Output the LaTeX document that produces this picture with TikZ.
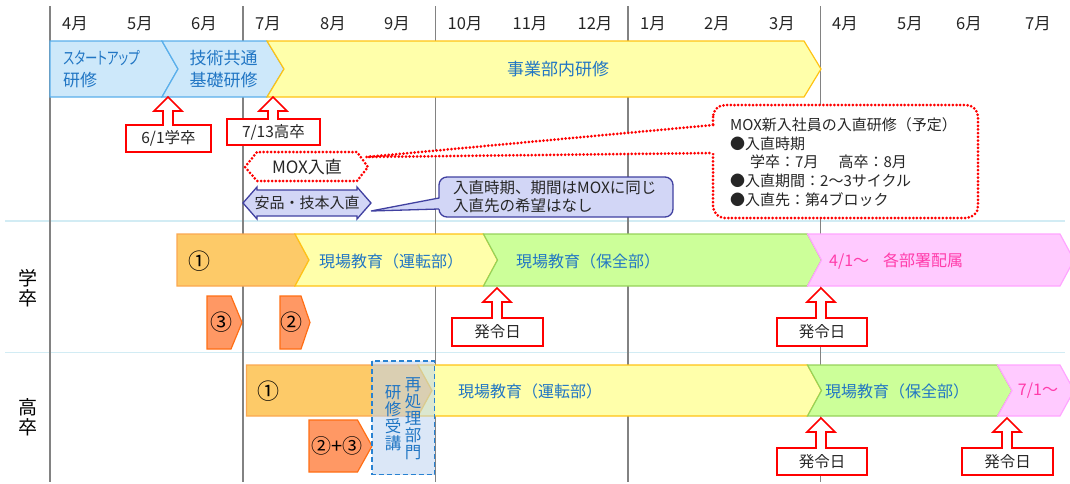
\documentclass[tikz,border=0pt]{standalone}
\usepackage{fontspec}
\setmainfont{Noto Sans CJK JP}
\newfontfamily\pfont{Noto Sans CJK JP}[RawFeature=+palt]
\usepackage{graphicx}
\usepackage{tikz}
\usetikzlibrary{positioning, calc}
\definecolor{gridgray}{RGB}{130,130,130}
\definecolor{sepcyan}{RGB}{210,236,244}
\definecolor{skyfill}{RGB}{205,232,250}
\definecolor{skyline}{RGB}{90,175,235}
\definecolor{yelfill}{RGB}{255,255,170}
\definecolor{yelline}{RGB}{255,195,20}
\definecolor{orafill}{RGB}{253,202,104}
\definecolor{oraline}{RGB}{250,168,80}
\definecolor{salfill}{RGB}{255,152,100}
\definecolor{salline}{RGB}{255,110,20}
\definecolor{grnfill}{RGB}{204,255,153}
\definecolor{grnline}{RGB}{150,210,90}
\definecolor{pnkfill}{RGB}{255,202,255}
\definecolor{pnkline}{RGB}{255,165,255}
\definecolor{pnktext}{RGB}{255,60,170}
\definecolor{txtblue}{RGB}{33,118,196}
\definecolor{lavfill}{RGB}{210,214,246}
\definecolor{lavline}{RGB}{64,64,160}
\definecolor{dashblue}{RGB}{40,130,210}
\definecolor{dashfill}{RGB}{190,212,240}

\newcommand{\fsz}[2]{\fontsize{#1}{#2}\selectfont}
% chevron: style, x left, notch, x corner, tip, y top, y bottom
\newcommand{\chev}[7]{%
  \draw [#1] (#2,#6) -- (#4,#6) -- ({#4+#5},{(#6+#7)/2}) -- (#4,#7) -- (#2,#7)
    -- ({#2+#3},{(#6+#7)/2}) -- cycle;}
% up arrow callout: name, tip x, tip y, box left, box right, box top, box bottom, text
\newcommand{\upcall}[8]{%
  \draw [redcall] (#4,#7) -- (#4,#6) -- ({#2-5},#6) -- ({#2-5},{#3+14}) -- ({#2-14},{#3+14})
    -- (#2,#3) -- ({#2+14},{#3+14}) -- ({#2+5},{#3+14}) -- ({#2+5},#6) -- (#5,#6) -- (#5,#7) -- cycle;
  \path node (#1) [calltext] at ({(#4+#5)/2},{(#6+#7)/2}) {#8};}

\begin{document}
\begin{tikzpicture}[
    x = 1pt, y = -1pt, inner sep = 0,
    gridline/.style = {draw = gridgray, line width = 1.8pt},
    sepline/.style = {draw = sepcyan, line width = 1.5pt},
    skybox/.style = {draw = skyline, fill = skyfill, line width = 1.2pt},
    yelbox/.style = {draw = yelline, fill = yelfill, line width = 1.2pt},
    orabox/.style = {draw = oraline, fill = orafill, line width = 1.2pt},
    salbox/.style = {draw = salline, fill = salfill, line width = 1.2pt},
    grnbox/.style = {draw = grnline, fill = grnfill, line width = 1.2pt},
    pnkbox/.style = {draw = pnkline, fill = pnkfill, line width = 1.2pt},
    redcall/.style = {draw = red, fill = white, line width = 1.6pt},
    reddot/.style = {draw = red, line width = 3pt, line cap = round, dash pattern = on 0pt off 3.7pt},
    lavcall/.style = {draw = lavline, fill = lavfill, line width = 1.3pt},
    dashbox/.style = {draw = dashblue, line width = 1.5pt, dash pattern = on 5pt off 3pt,
      fill = dashfill, fill opacity = 0.55}
  ]
  \tikzstyle {monthtext} = [text = black!85, font = {\fsz{16.5}{18}}]
  \tikzstyle {bartext} = [text = txtblue, font = {\fsz{17}{22}}, align = center]
  \tikzstyle {fieldtext} = [text = txtblue, font = {\fsz{16}{18}}]
  \tikzstyle {numtext} = [text = black, font = {\fsz{22}{22}}]
  \tikzstyle {calltext} = [text = black!85, font = {\fsz{15.5}{18}}]
  \tikzstyle {notetext} = [text = black!85, align = left]
  \tikzstyle {rowtext} = [text = black, font = {\fsz{19}{20}}, align = center]
  \useasboundingbox (0,0) rectangle (1070,483);
  % grid
  \foreach \y in {221, 352.5}
    { \draw [sepline] (5,\y) -- (1065,\y) ; } ;
  \foreach \x in {50, 243, 435.5, 628, 820.5}
    { \draw [gridline] (\x,6) -- (\x,482) ; } ;
  \foreach \x/\m [count=\i] in {75/4, 140/5, 204/6, 268/7, 333/8, 397/9, 465/10, 530/11,
      595/12, 653/1, 717/2, 782/3, 845/4, 910/5, 969/6, 1038/7}
    { \path node (mon\i) [monthtext] at (\x,24) {\m 月}; } ;
  % top row
  \chev{skybox}{50}{0}{162}{16}{41}{97}
  \chev{skybox}{162}{16}{267}{17}{41}{97}
  \chev{yelbox}{267}{17}{804}{17}{41}{97}
  \path node (startup) [bartext, anchor = west, align = left] at (63,69)
    {\scalebox{0.73}[1]{\pfont スタートアップ}\\研修};
  \path node (kiso) [bartext] at (223.5,69) {技術共通\\基礎研修};
  \path node (jigyo) [bartext] at (558,69) {事業部内研修};
  \upcall{gakusotsu}{168}{97}{126}{211}{125}{152}{6/1学卒}
  \upcall{kosotsu}{273}{97}{227}{320}{119}{145}{7/13高卒}
  % MOX note
  \draw [reddot, fill = white, rounded corners = 12pt] (713,105) rectangle (978,218);
  \fill [white] (716,125) -- (366,157) -- (716,153) -- cycle;
  \draw [reddot] (713,125) -- (366,157) -- (713,153);
  \path node (moxnote) [notetext, anchor = west, font = {\fsz{15}{18.7}}] at (730,162)
    {MOX新入社員の入直研修（予定）\\●入直時期\\\hspace*{20pt}学卒：7月\hspace{20pt}高卒：8月\\
     ●入直期間：2～3サイクル\\●入直先：第4ブロック};
  \draw [reddot, fill = white] (245,167) -- (257,152) -- (357,152) -- (368,167) -- (357,181)
    -- (257,181) -- cycle;
  \path node (mox) [calltext, font = {\fsz{17}{18}}] at (307,167) {MOX入直};
  % anpin note
  \draw [lavcall, rounded corners = 8pt] (439,177) rectangle (673,217);
  \fill [lavfill] (442,198) -- (371,211) -- (442,209) -- cycle;
  \draw [draw = lavline, line width = 1.3pt] (439,198) -- (371,211) -- (439,209);
  \path node (bluenote) [notetext, anchor = west, font = {\fsz{15.5}{18}}] at (453,197)
    {入直時期、期間はMOXに同じ\\入直先の希望はなし};
  \draw [lavcall] (243,203) -- (257,187) -- (257,190) -- (357,190) -- (357,187) -- (371,203)
    -- (357,219) -- (357,216) -- (257,216) -- (257,219) -- cycle;
  \path node (anpin) [calltext, font = {\fsz{15}{18}}] at (307,203) {安品・技本入直};
  % gakusotsu row
  \path node (rowgaku) [rowtext] at (27.5,288) {学\\卒};
  \chev{orabox}{177}{0}{295}{14}{234}{286}
  \chev{yelbox}{295}{14}{483.5}{14}{234}{286}
  \chev{grnbox}{483.5}{14}{807.5}{14}{234}{286}
  \chev{pnkbox}{807.5}{14}{1060}{14}{234}{286}
  \chev{salbox}{207}{0}{231}{11}{296}{349}
  \chev{salbox}{280}{0}{301}{9}{296}{349}
  \path node (g1) [numtext] at (199,261) {①};
  \path node (g3) [numtext] at (221,322.5) {③};
  \path node (g2) [numtext] at (291,322.5) {②};
  \path node (gunten) [fieldtext] at (391,261) {現場教育（運転部）};
  \path node (ghozen) [fieldtext] at (588,261) {現場教育（保全部）};
  \path node (ghaizoku) [fieldtext, text = pnktext, anchor = west] at (829,261)
    {4/1～\hspace{14pt}各部署配属};
  \upcall{ghatsu1}{497}{288}{452}{543}{318}{346}{発令日}
  \upcall{ghatsu2}{821}{288}{777}{867}{318}{346}{発令日}
  % kosotsu row
  \path node (rowko) [rowtext] at (27.5,417) {高\\卒};
  \chev{orabox}{246.5}{0}{418}{14}{365}{416}
  \chev{yelbox}{418}{14}{807.5}{14}{365}{416}
  \chev{grnbox}{807.5}{14}{997.5}{14.5}{365}{416}
  \chev{pnkbox}{997.5}{14.5}{1060}{14}{365}{416}
  \chev{salbox}{309}{0}{357.5}{14.5}{420}{472}
  \draw [dashbox] (372,361) rectangle (434.5,474.5);
  \path node (k1) [numtext] at (268,391) {①};
  \path node (k23) [numtext, font = {\fsz{20}{20}}] at (337,446) {②+③};
  \path node (saishori) [bartext, font = {\fsz{16.5}{17}}] at (413,418.5) {再\\処\\理\\部\\門};
  \path node (kenshu) [bartext, font = {\fsz{16.5}{17}}] at (393,418) {研\\修\\受\\講};
  \path node (kunten) [fieldtext] at (530,391) {現場教育（運転部）};
  \path node (khozen) [fieldtext] at (897,391) {現場教育（保全部）};
  \path node (kjuly) [fieldtext, text = pnktext] at (1038,391) {7/1～};
  \upcall{khatsu1}{821}{418}{777}{867}{448}{475}{発令日}
  \upcall{khatsu2}{1007}{418}{962}{1053}{448}{475}{発令日}
\end{tikzpicture}
\end{document}
